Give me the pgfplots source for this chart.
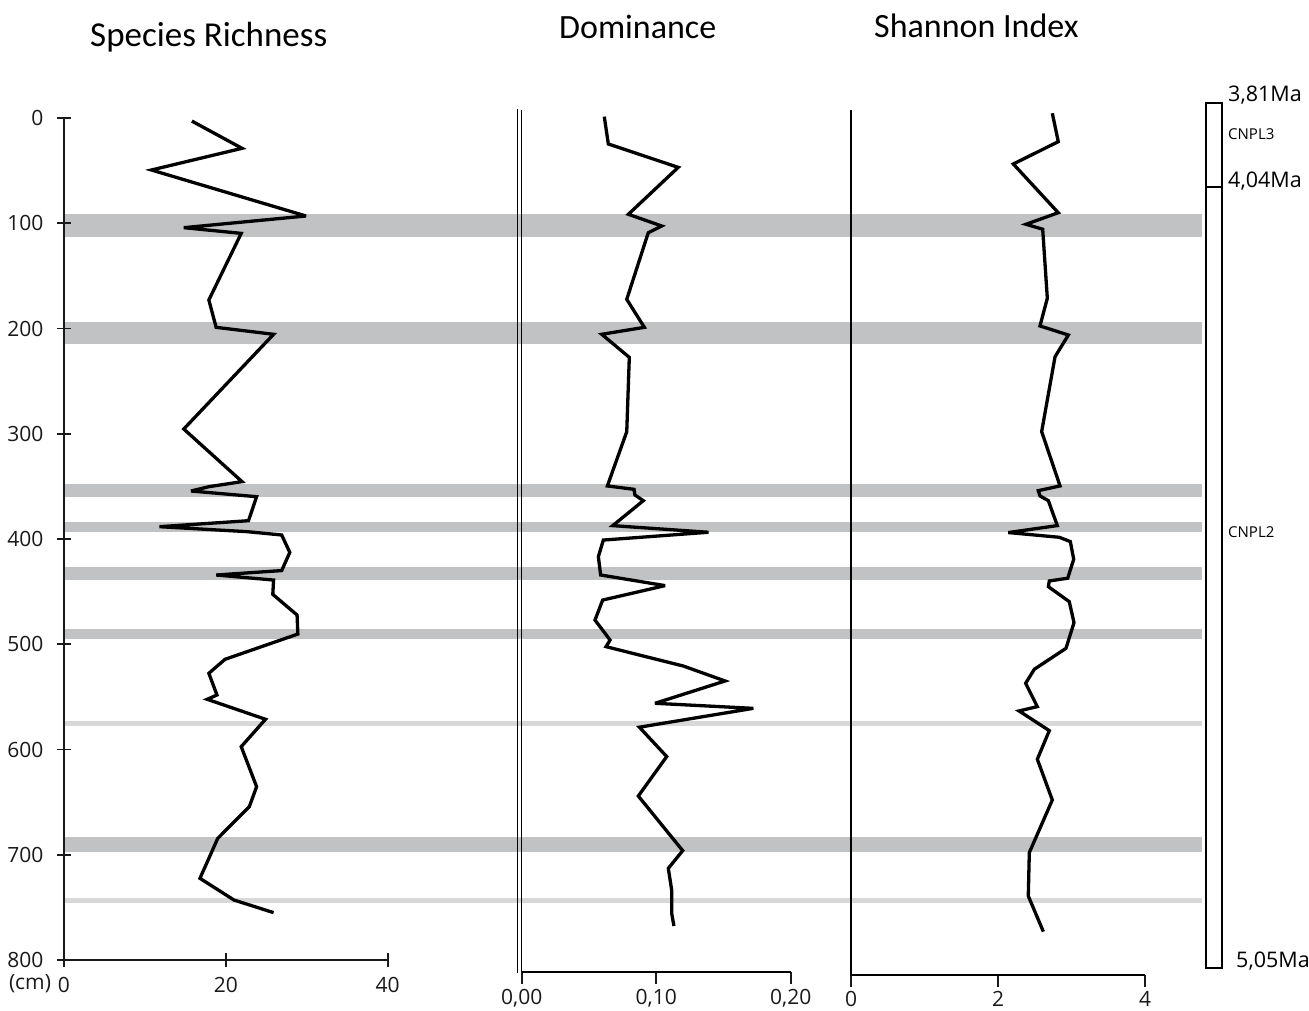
\documentclass[border=0pt]{standalone}
\usepackage{fontspec}
\setmainfont{Open Sans}
\newfontfamily\calibri{Carlito}
\usepackage{pgfplots}
\pgfplotsset{compat=1.18}
\definecolor{bandA}{RGB}{193,194,196}
\definecolor{bandB}{RGB}{216,216,216}
\pgfplotstableread{
x y
15.8 2.9
22.0 28.8
10.8 49.4
29.9 93.1
14.8 104.2
21.9 109.6
17.9 172.9
18.8 198.9
25.9 205.5
14.8 295.5
22.0 345.5
17.9 350.3
15.7 354.4
23.8 359.8
22.8 382.6
11.8 388.3
22.6 393.0
26.9 396.2
27.9 412.7
26.9 430.0
18.8 434.2
25.9 439.0
25.8 452.6
28.8 472.2
28.9 490.3
19.9 514.3
17.9 527.6
18.9 548.2
17.7 552.3
24.9 571.3
21.9 597.3
23.8 635.3
22.9 654.3
19.0 684.4
16.8 722.4
21.0 743.0
25.9 755.0
}\richness
\pgfplotstableread{
x y
0.0614 -1.3
0.0644 24.7
0.1164 46.9
0.0793 91.5
0.1041 102.6
0.0941 109.0
0.0781 172.3
0.0912 198.9
0.0595 205.5
0.0800 227.4
0.0781 298.0
0.0637 349.6
0.0835 352.8
0.0842 358.2
0.0904 363.6
0.0677 387.3
0.1388 393.6
0.0607 401.0
0.0570 416.8
0.0587 434.2
0.1066 444.3
0.0602 458.0
0.0545 477.0
0.0657 496.0
0.0627 502.3
0.1202 520.7
0.1512 534.9
0.0991 556.1
0.1722 560.9
0.0875 578.8
0.1078 606.7
0.0867 644.2
0.1197 696.1
0.1090 712.9
0.1115 733.5
0.1115 755.6
0.1132 767.7
}\dominance
\pgfplotstableread{
x y
2.739 -4.5
2.820 22.5
2.208 43.7
2.820 90.0
2.381 101.0
2.608 105.7
2.671 171.3
2.571 197.6
2.957 206.2
2.776 226.8
2.594 298.0
2.844 349.6
2.548 354.1
2.571 359.1
2.685 363.6
2.807 387.3
2.140 393.9
2.834 398.4
2.984 402.5
3.030 419.3
2.948 437.3
2.698 439.9
2.685 445.3
2.970 459.6
3.034 479.5
2.925 503.9
2.494 523.8
2.376 537.1
2.535 559.3
2.286 563.4
2.698 582.1
2.535 609.3
2.739 648.0
2.426 698.0
2.412 739.2
2.617 773.1
}\shannon
\pgfplotsset{
  panel/.style={
    scale only axis, anchor=south west, y dir=reverse, clip=false,
    axis x line=bottom, axis y line=left,
    axis line style={-, line width=1.6pt, black!90},
    every tick/.style={line width=1.6pt, black!90},
    ticklabel style={font=\fontsize{21}{21}\selectfont, text=black!90},
    yticklabel style={xshift=-10pt},
    /pgf/number format/assume math mode=true,
  },
  dataline/.style={black, line width=3.3pt, line join=miter, miter limit=4, no marks},
}
\begin{document}
\begin{tikzpicture}[x=1pt,y=1pt]
\useasboundingbox (0,0) rectangle (1309,1011);
% background: bands and stratigraphic column
\begin{axis}[at={(64pt,51pt)}, anchor=south west, scale only axis, width=1138pt, height=842pt,
  xmin=64, xmax=1202, ymin=0, ymax=800, y dir=reverse, axis lines=none, clip=false]
  \addplot[bandA, line width=23pt, forget plot] coordinates {(64,102.4) (1202,102.4)};
  \addplot[bandA, line width=21.7pt, forget plot] coordinates {(64,204.4) (1202,204.4)};
  \addplot[bandA, line width=13pt, forget plot] coordinates {(64,354.2) (1202,354.2)};
  \addplot[bandA, line width=10.6pt, forget plot] coordinates {(64,388.6) (1202,388.6)};
  \addplot[bandA, line width=13.3pt, forget plot] coordinates {(64,432.9) (1202,432.9)};
  \addplot[bandA, line width=10pt, forget plot] coordinates {(64,490.6) (1202,490.6)};
  \addplot[bandB, line width=5pt, forget plot] coordinates {(64,575.4) (1202,575.4)};
  \addplot[bandA, line width=14.4pt, forget plot] coordinates {(64,690.3) (1202,690.3)};
  \addplot[bandB, line width=5pt, forget plot] coordinates {(64,743.5) (1202,743.5)};
  \draw[line width=2pt] (axis cs:1206,-14) rectangle (axis cs:1222,807.9);
  \draw[line width=2pt] (axis cs:1206,65.9) -- (axis cs:1222,65.9);
  \node[anchor=west, inner sep=0pt, font=\fontsize{21.5}{21.5}\selectfont] at (axis cs:1228,-21.9) {3,81Ma};
  \node[anchor=west, inner sep=0pt, font=\fontsize{15}{15}\selectfont] at (axis cs:1228,15.2) {CNPL3};
  \node[anchor=west, inner sep=0pt, font=\fontsize{21.5}{21.5}\selectfont] at (axis cs:1228,59.9) {4,04Ma};
  \node[anchor=west, inner sep=0pt, font=\fontsize{15}{15}\selectfont] at (axis cs:1228,393.3) {CNPL2};
  \node[anchor=west, inner sep=0pt, font=\fontsize{21.5}{21.5}\selectfont] at (axis cs:1236,801) {5,05Ma};
\end{axis}
% Panel 1: species richness
\begin{axis}[panel, at={(64pt,51pt)}, width=323.7pt, height=842pt,
  xmin=0, xmax=40, ymin=0, ymax=800,
  xtick={0,20,40}, ytick={0,100,...,800},
  xticklabel style={yshift=-7pt},
  tick align=center, major tick length=14pt]
  \addplot[dataline] table[x=x,y=y] {\richness};
\end{axis}
% Panel 2: dominance
\begin{axis}[panel, at={(521.7pt,39pt)}, width=269pt, height=862pt,
  xmin=0, xmax=0.2, ymin=-7.6, ymax=811.4,
  xtick={0,0.1,0.2}, xticklabels={{0,00},{0,10},{0,20}}, ytick=\empty,
  xticklabel style={yshift=-2pt},
  tick align=outside, major tick length=12pt,
  axis line style={-, line width=1.4pt, black}]
  \draw[line width=1.4pt] (axis cs:-0.003,-9) -- (axis cs:-0.003,812);
  \addplot[dataline] table[x=x,y=y] {\dominance};
\end{axis}
% Panel 3: Shannon index
\begin{axis}[panel, at={(851pt,36pt)}, width=294pt, height=865pt,
  xmin=0, xmax=4, ymin=-7.6, ymax=814.3,
  xtick={0,2,4}, ytick=\empty,
  xticklabel style={yshift=-1pt},
  tick align=outside, major tick length=12pt,
  axis line style={-, line width=1.4pt, black}]
  \addplot[dataline] table[x=x,y=y] {\shannon};
\end{axis}
% titles and unit label
\node[anchor=base west, inner sep=0pt, font=\calibri\fontsize{35}{35}\selectfont] at (90,964) {Species Richness};
\node[anchor=base west, inner sep=0pt, font=\calibri\fontsize{34}{34}\selectfont] at (559,972) {Dominance};
\node[anchor=base west, inner sep=0pt, font=\calibri\fontsize{34}{34}\selectfont] at (874,973) {Shannon Index};
\node[anchor=center, inner sep=0pt, font=\fontsize{21}{21}\selectfont, text=black!90] at (30,27) {(cm)};
\end{tikzpicture}
\end{document}
